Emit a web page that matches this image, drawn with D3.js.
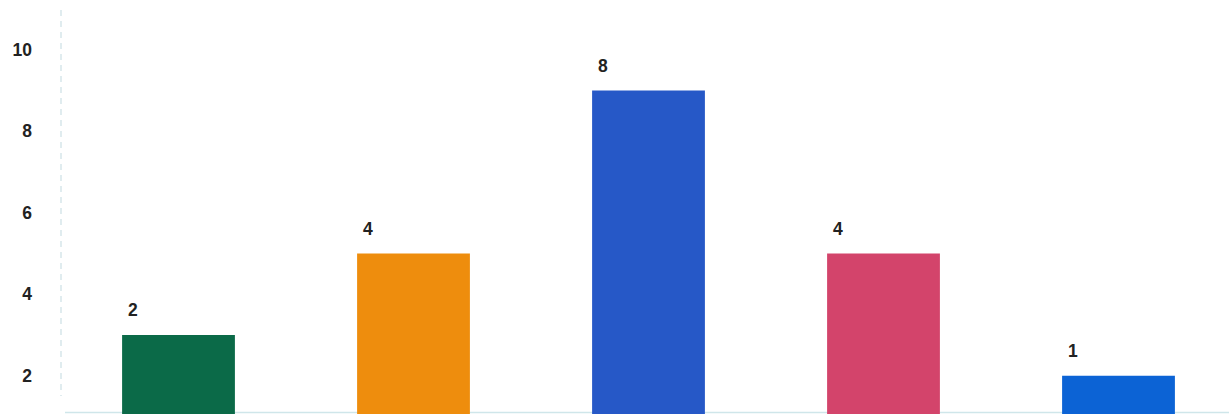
<!DOCTYPE html>
<html>
<head>
<meta charset="utf-8">
<script src="https://cdn.jsdelivr.net/npm/d3@7"></script>
<style>
  html, body { margin: 0; padding: 0; background: #fff; }
  svg { display: block; }
</style>
</head>
<body>
<svg id="chart" width="1229" height="414"></svg>
<script>
const categories = ["A", "B", "C", "D", "E"];
const values = [2, 4, 8, 4, 1];
const colors = ["#0b6a48", "#ee8d0d", "#2658c7", "#d3446b", "#0c63d5"];
const tickPositions = [1, 3, 5, 7, 9];
const tickLabels = ["2", "4", "6", "8", "10"];

const svg = d3.select("#chart");

const x = d3.scaleBand().domain(categories).range([61, 1236]).paddingInner(0.52).paddingOuter(0.26);
const y = d3.scaleLinear().domain([0, 10]).range([416.5, 9]);

// y axis (dashed faint line)
svg.append("line")
  .attr("x1", 61).attr("x2", 61).attr("y1", 10).attr("y2", 396)
  .attr("stroke", "#d6e6ea").attr("stroke-width", 1.5).attr("stroke-dasharray", "6,5");

const yAxis = d3.axisLeft(y).tickValues(tickPositions).tickFormat((d, i) => tickLabels[i]).tickSize(0).tickPadding(0);
const ga = svg.append("g").attr("transform", "translate(32,0)").call(yAxis);
ga.select(".domain").remove();
ga.selectAll("text")
  .attr("font-family", "Liberation Sans, Arial, sans-serif")
  .attr("font-size", 17.5).attr("font-weight", 600).attr("fill", "#222");

// baseline
svg.append("line")
  .attr("x1", 65).attr("x2", 1229).attr("y1", 412.5).attr("y2", 412.5)
  .attr("stroke", "#cfe6ea").attr("stroke-width", 1.5);

const data = categories.map((c, i) => ({ c, v: values[i], color: colors[i] }));

svg.selectAll("rect.bar").data(data).enter().append("rect")
  .attr("class", "bar")
  .attr("x", d => x(d.c))
  .attr("width", x.bandwidth())
  .attr("y", d => y(d.v))
  .attr("height", d => y(0) - y(d.v))
  .attr("fill", d => d.color);

svg.selectAll("text.lbl").data(data).enter().append("text")
  .attr("class", "lbl")
  .attr("x", d => x(d.c) + 6)
  .attr("y", d => y(d.v) - 19)
  .attr("font-family", "Liberation Sans, Arial, sans-serif")
  .attr("font-size", 17.5).attr("font-weight", 600).attr("fill", "#222")
  .text(d => d.v);
</script>
</body>
</html>
